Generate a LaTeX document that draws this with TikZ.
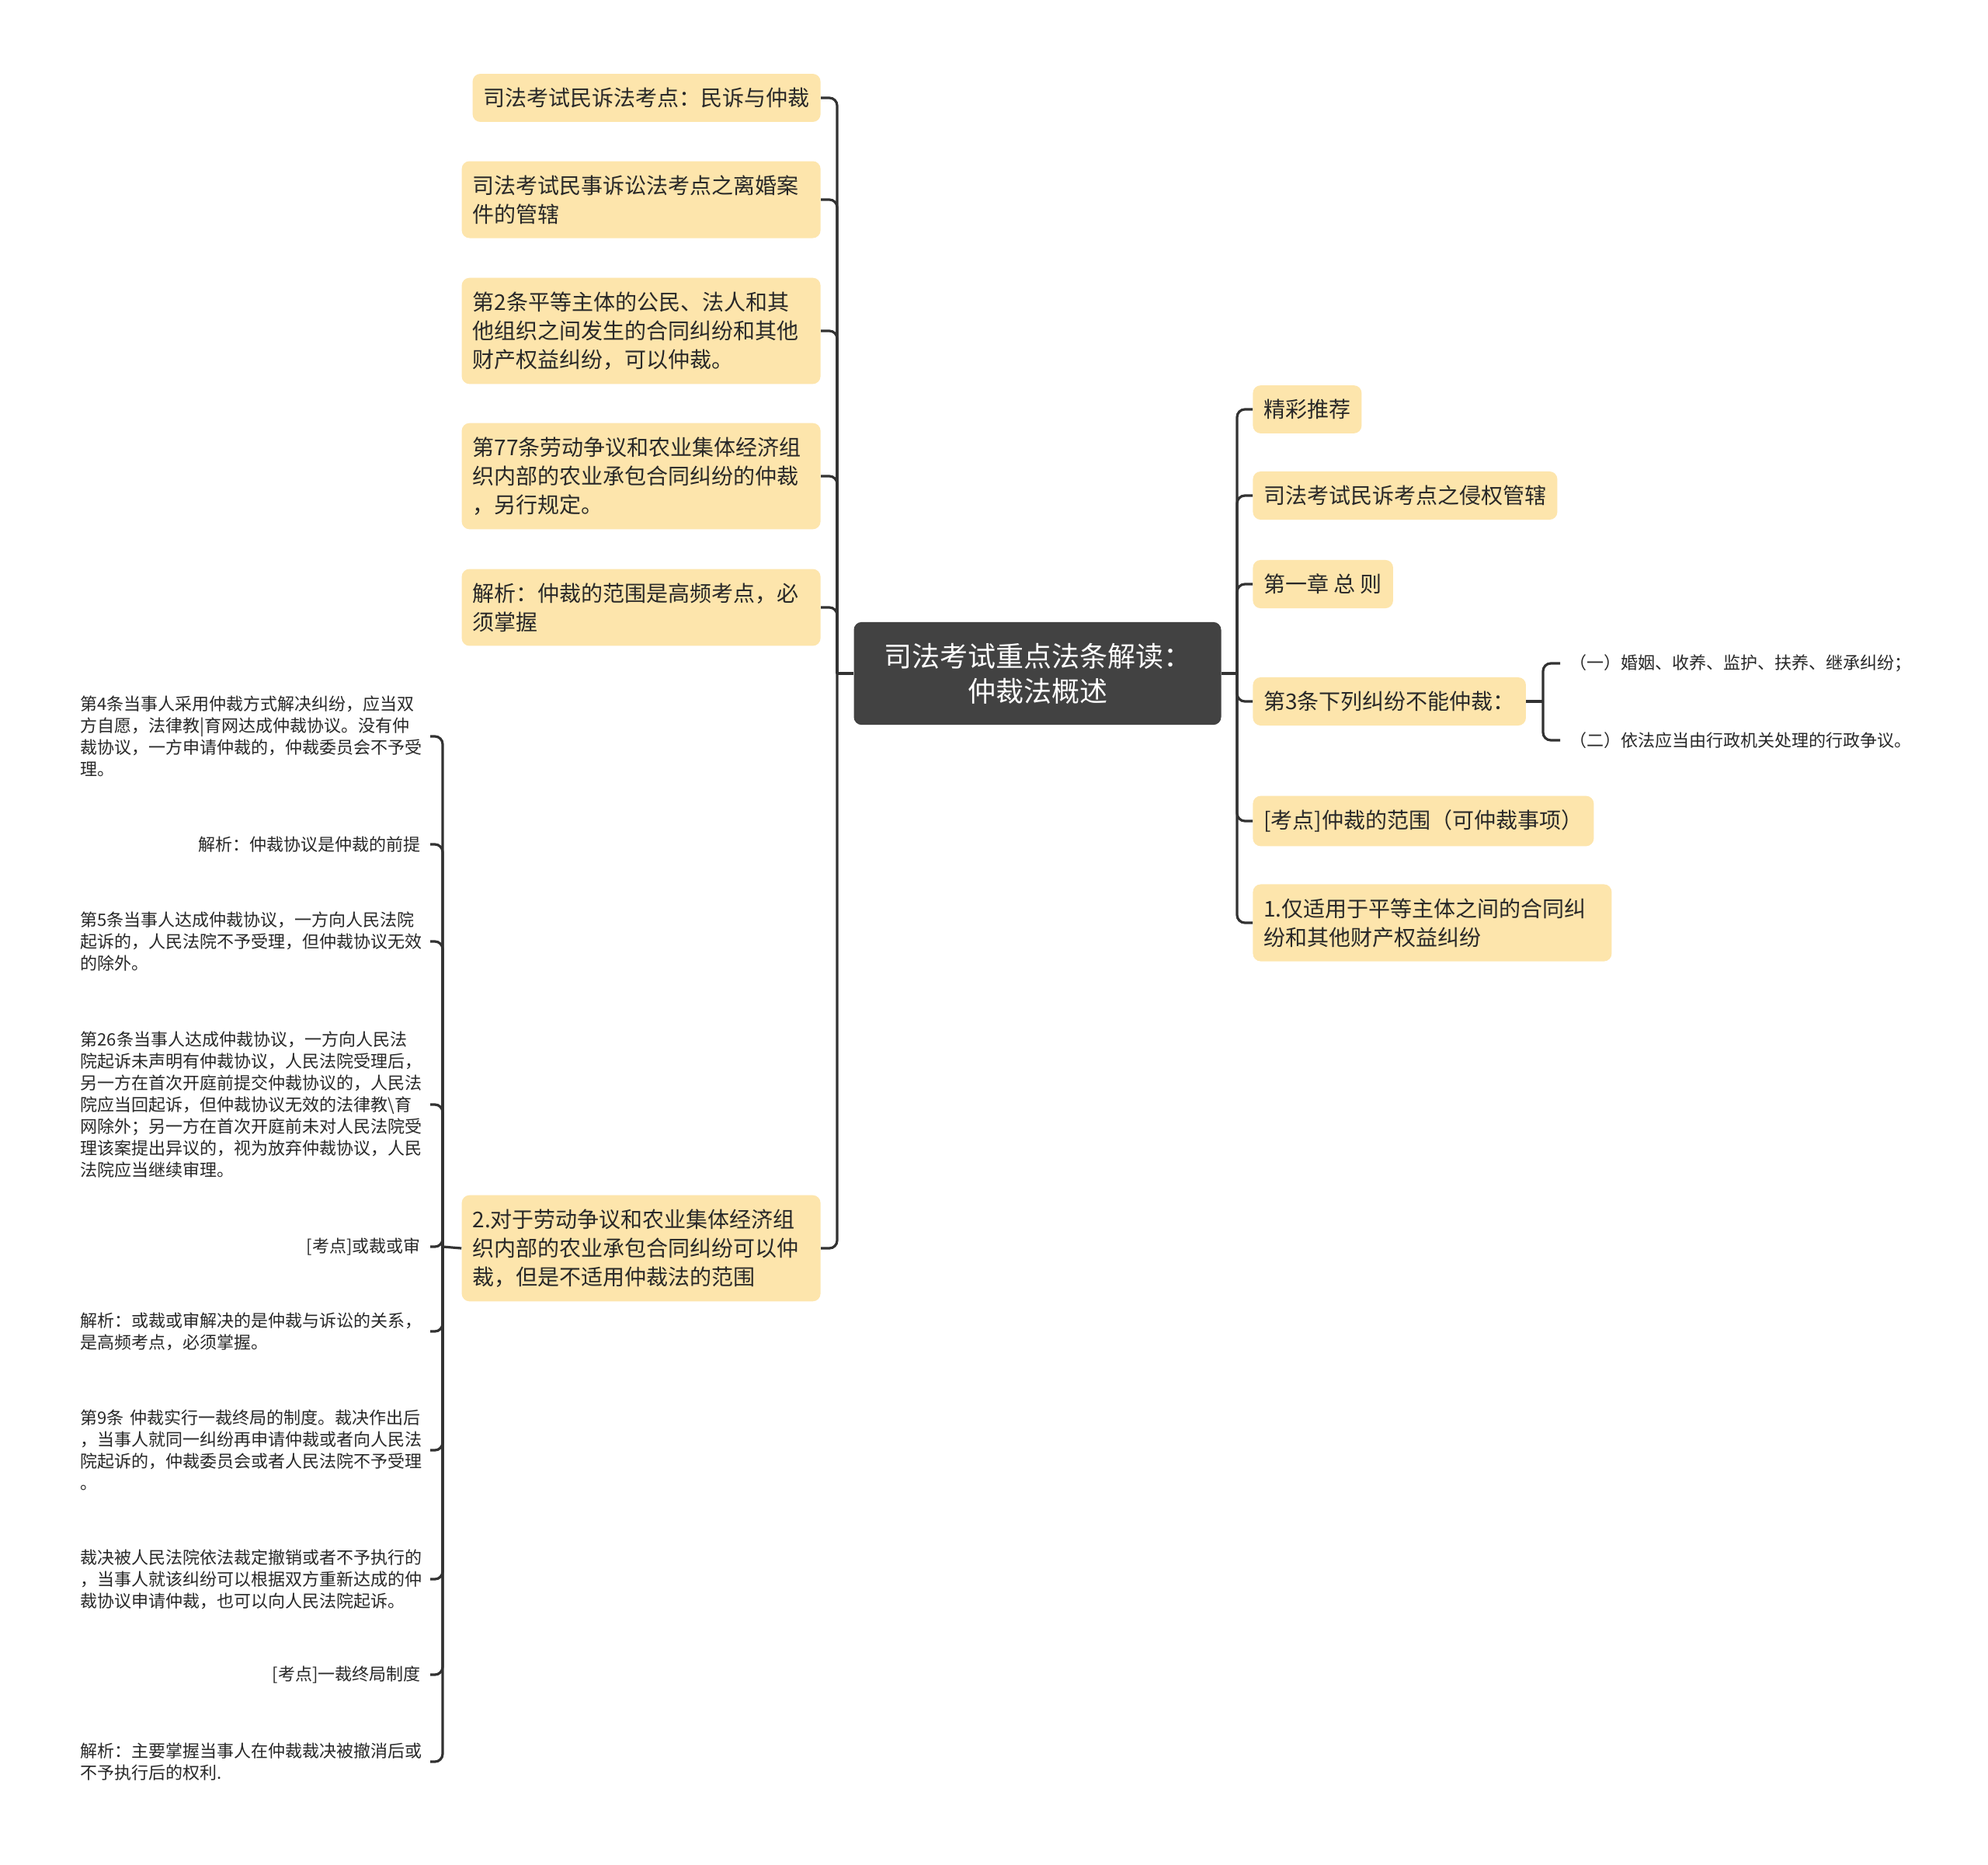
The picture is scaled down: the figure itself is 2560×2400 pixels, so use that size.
\documentclass[tikz,border=0pt]{standalone}
\usepackage{fontspec}
\newfontfamily\cjk{Noto Sans CJK SC}
\usepackage{tikz}
\definecolor{mapyellow}{RGB}{253,229,172}
\definecolor{mapdark}{RGB}{66,66,66}
\definecolor{mapline}{RGB}{50,50,50}
\definecolor{maptext}{RGB}{40,40,40}
\tikzset{
  topicbox/.style={fill=mapyellow,rounded corners=5pt,inner xsep=7pt,inner ysep=9pt,
    font=\cjk\fontsize{14}{18.5}\selectfont,text=maptext,align=left},
  widebox/.style={topicbox,text width=217pt},
  rootbox/.style={fill=mapdark,rounded corners=5pt,text=white,align=center,
    font=\cjk\fontsize{18}{22.5}\selectfont,minimum width=236.5pt,inner ysep=13.5pt},
  leafnote/.style={font=\cjk\fontsize{11}{14}\selectfont,text=maptext,align=left,
    inner xsep=6pt,inner ysep=2pt},
  leafwide/.style={leafnote,text width=219pt},
  maplink/.style={draw=mapline,line width=1.6pt,rounded corners=5pt},
}
\begin{document}
\begin{tikzpicture}[x=0.5pt,y=-0.5pt]
        \useasboundingbox (0,0) rectangle (2560,2400);
        \fill [white] (0,0) rectangle (2560,2400);
        \node (root) at (1336,867) [rootbox] {司法考试重点法条解读：\\仲裁法概述};
        \node (b1) at (1057,126) [topicbox,anchor=east] {司法考试民诉法考点：民诉与仲裁};
        \node (b2) at (1057,257) [widebox,anchor=east] {司法考试民事诉讼法考点之离婚案\\件的管辖};
        \node (b3) at (1057,426) [widebox,anchor=east] {第2条平等主体的公民、法人和其\\他组织之间发生的合同纠纷和其他\\财产权益纠纷，可以仲裁。};
        \node (b4) at (1057,613) [widebox,anchor=east] {第77条劳动争议和农业集体经济组\\织内部的农业承包合同纠纷的仲裁\\，另行规定。};
        \node (b5) at (1057,782) [widebox,anchor=east] {解析：仲裁的范围是高频考点，必\\须掌握};
        \node (b6) at (1057,1607) [widebox,anchor=east] {2.对于劳动争议和农业集体经济组\\织内部的农业承包合同纠纷可以仲\\裁，但是不适用仲裁法的范围};
        \node (r1) at (1613,527) [topicbox,anchor=west] {精彩推荐};
        \node (r2) at (1613,638) [topicbox,anchor=west] {司法考试民诉考点之侵权管辖};
        \node (r3) at (1613,752) [topicbox,anchor=west] {第一章 总 则};
        \node (r4) at (1613,903) [topicbox,anchor=west] {第3条下列纠纷不能仲裁：};
        \node (r5) at (1613,1057) [topicbox,anchor=west] {[考点]仲裁的范围（可仲裁事项）};
        \node (r6) at (1613,1188) [widebox,anchor=west] {1.仅适用于平等主体之间的合同纠\\纷和其他财产权益纠纷};
        \node (s1) at (2009,854) [leafnote,anchor=west] {（一）婚姻、收养、监护、扶养、继承纠纷；};
        \node (s2) at (2009,953) [leafnote,anchor=west] {（二）依法应当由行政机关处理的行政争议。};
        \node (l1) at (554,948) [leafwide,anchor=east] {第4条当事人采用仲裁方式解决纠纷，应当双\\方自愿，法律教|育网达成仲裁协议。没有仲\\裁协议，一方申请仲裁的，仲裁委员会不予受\\理。};
        \node (l2) at (554,1087) [leafnote,anchor=east] {解析：仲裁协议是仲裁的前提};
        \node (l3) at (554,1212) [leafwide,anchor=east] {第5条当事人达成仲裁协议，一方向人民法院\\起诉的，人民法院不予受理，但仲裁协议无效\\的除外。};
        \node (l4) at (554,1422) [leafwide,anchor=east] {第26条当事人达成仲裁协议，一方向人民法\\院起诉未声明有仲裁协议，人民法院受理后，\\另一方在首次开庭前提交仲裁协议的，人民法\\院应当回起诉，但仲裁协议无效的法律教\textbackslash 育\\网除外；另一方在首次开庭前未对人民法院受\\理该案提出异议的，视为放弃仲裁协议，人民\\法院应当继续审理。};
        \node (l5) at (554,1605) [leafnote,anchor=east] {[考点]或裁或审};
        \node (l6) at (554,1714) [leafwide,anchor=east] {解析：或裁或审解决的是仲裁与诉讼的关系，\\是高频考点，必须掌握。};
        \node (l7) at (554,1867) [leafwide,anchor=east] {第9条 仲裁实行一裁终局的制度。裁决作出后\\，当事人就同一纠纷再申请仲裁或者向人民法\\院起诉的，仲裁委员会或者人民法院不予受理\\。};
        \node (l8) at (554,2033) [leafwide,anchor=east] {裁决被人民法院依法裁定撤销或者不予执行的\\，当事人就该纠纷可以根据双方重新达成的仲\\裁协议申请仲裁，也可以向人民法院起诉。};
        \node (l9) at (554,2156) [leafnote,anchor=east] {[考点]一裁终局制度};
        \node (l10) at (554,2268) [leafwide,anchor=east] {解析：主要掌握当事人在仲裁裁决被撤消后或\\不予执行后的权利.};
        \coordinate (lt) at (1078,867);
        \coordinate (rt) at (1593,867);
        \coordinate (dt) at (570,1605);
        \coordinate (st) at (1987,903);
        \draw [maplink] (root.west)--(lt);
        \draw [maplink] (lt)|-(b1.east);
        \draw [maplink] (lt)|-(b2.east);
        \draw [maplink] (lt)|-(b3.east);
        \draw [maplink] (lt)|-(b4.east);
        \draw [maplink] (lt)|-(b5.east);
        \draw [maplink] (lt)|-(b6.east);
        \draw [maplink] (root.east)--(rt);
        \draw [maplink] (rt)|-(r1.west);
        \draw [maplink] (rt)|-(r2.west);
        \draw [maplink] (rt)|-(r3.west);
        \draw [maplink] (rt)|-(r4.west);
        \draw [maplink] (rt)|-(r5.west);
        \draw [maplink] (rt)|-(r6.west);
        \draw [maplink] (r4.east)--(st);
        \draw [maplink] (st)|-(s1.west);
        \draw [maplink] (st)|-(s2.west);
        \draw [maplink] (b6.west)--(dt);
        \draw [maplink] (dt)|-(l1.east);
        \draw [maplink] (dt)|-(l2.east);
        \draw [maplink] (dt)|-(l3.east);
        \draw [maplink] (dt)|-(l4.east);
        \draw [maplink] (dt)|-(l5.east);
        \draw [maplink] (dt)|-(l6.east);
        \draw [maplink] (dt)|-(l7.east);
        \draw [maplink] (dt)|-(l8.east);
        \draw [maplink] (dt)|-(l9.east);
        \draw [maplink] (dt)|-(l10.east);
      \end{tikzpicture}
\end{document}
